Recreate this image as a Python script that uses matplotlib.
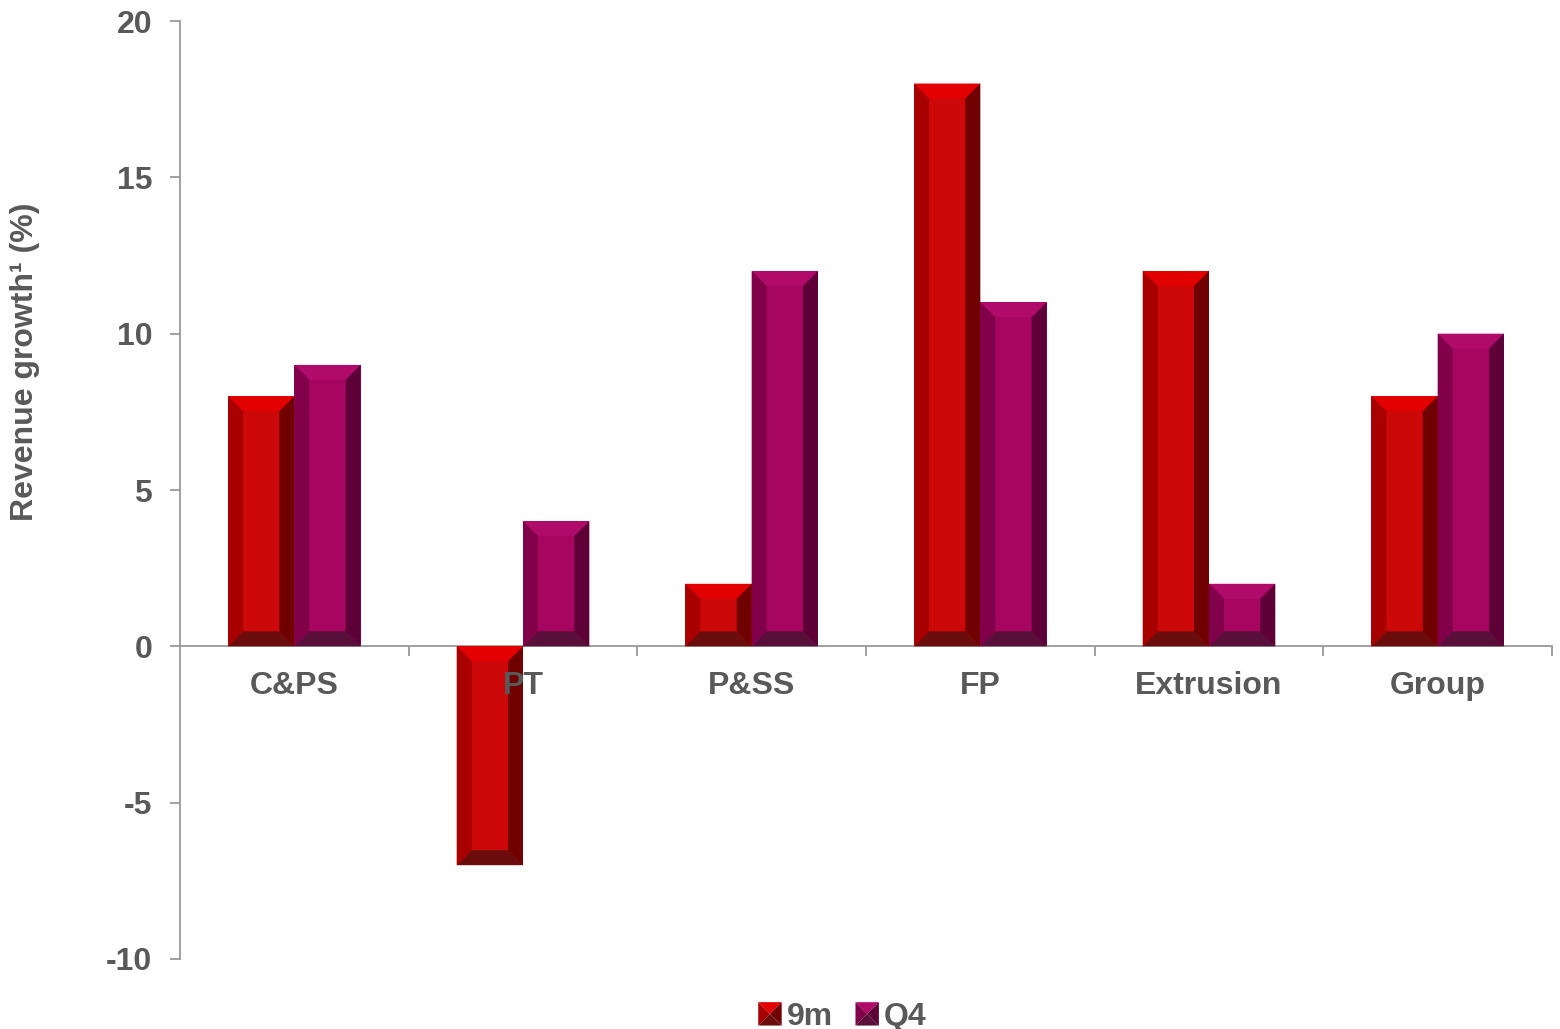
import matplotlib
matplotlib.use("Agg")
import matplotlib.pyplot as plt
from matplotlib.patches import Polygon, Rectangle
from matplotlib.legend_handler import HandlerBase
from matplotlib.ticker import FixedLocator, NullFormatter

categories = ["C&PS", "PT", "P&SS", "FP", "Extrusion", "Group"]
series_names = ["9m", "Q4"]
values_9m = [8, -7, 2, 18, 12, 8]
values_q4 = [9, 4, 12, 11, 2, 10]
y_ticks = [-10, -5, 0, 5, 10, 15, 20]

# face colours: front, top, left, right, bottom
col_9m = dict(front="#CC0808", top="#E30000", left="#A80000", right="#700000", bottom="#6B0D0D")
col_q4 = dict(front="#A6065F", top="#B00A6A", left="#80004A", right="#5E0038", bottom="#58103A")

plt.rcParams['font.family'] = ['Liberation Sans', 'DejaVu Sans']
TXT = "#595959"
AXC = "#999999"
FS = 23

W, H, DPI = 15.6, 10.29, 100
fig = plt.figure(figsize=(W, H), dpi=DPI)
L, R, T, B = 180 / 1560, 1552 / 1560, 1 - 21 / 1029, 1 - 959 / 1029
ax = fig.add_axes([L, B, R - L, T - B])
ax.set_xlim(-0.5, len(categories) - 0.5)
ax.set_ylim(-10, 20)

ax_w_px = W * DPI * (R - L)
ax_h_px = H * DPI * (T - B)
bev = 15
bx = bev * (ax.get_xlim()[1] - ax.get_xlim()[0]) / ax_w_px
by = bev * (ax.get_ylim()[1] - ax.get_ylim()[0]) / ax_h_px

width = 0.29


def bevel_bar(xc, val, c):
    x0, x1 = xc - width / 2, xc + width / 2
    top, bot = max(val, 0), min(val, 0)
    ax.add_patch(Rectangle((x0, bot), width, top - bot, facecolor=c["front"], edgecolor="none", zorder=1))
    faces = [
        ([(x0, top), (x1, top), (x1 - bx, top - by), (x0 + bx, top - by)], c["top"]),
        ([(x0, bot), (x1, bot), (x1 - bx, bot + by), (x0 + bx, bot + by)], c["bottom"]),
        ([(x0, bot), (x0, top), (x0 + bx, top - by), (x0 + bx, bot + by)], c["left"]),
        ([(x1, bot), (x1, top), (x1 - bx, top - by), (x1 - bx, bot + by)], c["right"]),
    ]
    for pts, fc in faces:
        ax.add_patch(Polygon(pts, closed=True, facecolor=fc, edgecolor="none", zorder=1.1))


for i, (a, b) in enumerate(zip(values_9m, values_q4)):
    bevel_bar(i - width / 2, a, col_9m)
    bevel_bar(i + width / 2, b, col_q4)

# axes styling
for s in ["top", "right"]:
    ax.spines[s].set_visible(False)
ax.spines["bottom"].set_position(("data", 0))
for s in ["left", "bottom"]:
    ax.spines[s].set_color(AXC)
    ax.spines[s].set_linewidth(1.3)
    ax.spines[s].set_zorder(0.5)

ax.set_yticks(y_ticks)
ax.set_yticklabels([str(t) for t in y_ticks])
ax.tick_params(axis="y", direction="out", length=7, width=1.3, color=AXC, pad=13,
               labelsize=FS, labelcolor=TXT)
for lab in ax.get_yticklabels():
    lab.set_fontweight("bold")

ax.xaxis.set_major_locator(FixedLocator([i + 0.5 for i in range(len(categories))]))
ax.xaxis.set_major_formatter(NullFormatter())
ax.set_xticks(range(len(categories)), minor=True)
ax.set_xticklabels(categories, minor=True)
ax.tick_params(axis="x", which="major", direction="out", length=7, width=1.3, color=AXC)
ax.tick_params(axis="x", which="minor", length=0, pad=18, labelsize=FS, labelcolor=TXT)
for lab in ax.get_xticklabels(minor=True):
    lab.set_fontweight("bold")

fig.text(25 / 1560, 1 - 362 / 1029, "Revenue growth\u00b9 (%)", rotation=90, ha="center", va="center",
         fontsize=FS, fontweight="bold", color=TXT)


class BevelSquare(HandlerBase):
    def __init__(self, c):
        super().__init__()
        self.c = c

    def create_artists(self, legend, orig_handle, xdescent, ydescent, width, height, fontsize, trans):
        s = min(width, height)
        x0 = -xdescent + (width - s)
        y0 = -ydescent + (height - s) / 2
        cx, cy = x0 + s / 2, y0 + s / 2
        c = self.c
        pts = [
            ([(x0, y0 + s), (x0 + s, y0 + s), (cx, cy)], c["top"]),
            ([(x0, y0), (x0, y0 + s), (cx, cy)], c["left"]),
            ([(x0 + s, y0), (x0 + s, y0 + s), (cx, cy)], c["right"]),
            ([(x0, y0), (x0 + s, y0), (cx, cy)], c["bottom"]),
        ]
        arts = []
        for p, fc in pts:
            arts.append(Polygon(p, closed=True, facecolor=fc, edgecolor="none", transform=trans))
        return arts


h1 = Rectangle((0, 0), 1, 1)
h2 = Rectangle((0, 0), 1, 1)
leg = fig.legend([h1, h2], series_names, loc="center", bbox_to_anchor=(842 / 1560, 1 - 1017 / 1029),
                 ncol=2, frameon=False, handler_map={h1: BevelSquare(col_9m), h2: BevelSquare(col_q4)},
                 handlelength=0.75, handleheight=0.75, handletextpad=0.15, columnspacing=0.7,
                 prop={"size": FS, "weight": "bold"})
for t in leg.get_texts():
    t.set_color(TXT)

fig.savefig("out.png", dpi=DPI)
